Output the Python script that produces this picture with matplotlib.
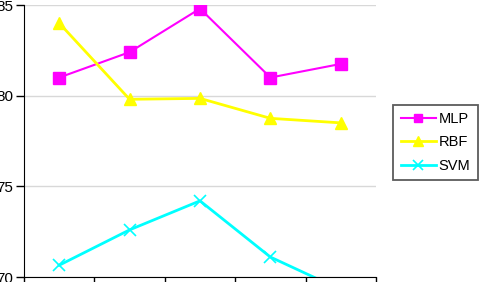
import matplotlib
matplotlib.use("Agg")
from matplotlib import pyplot as plt

# Values
categories = [0, 1, 2, 3, 4]
mlp = [81.0, 82.4, 84.8, 81.0, 81.75]
rbf = [84.0, 79.8, 79.85, 78.75, 78.5]
svm = [70.65, 72.6, 74.2, 71.1, 69.3]
y_ticks = [70, 75, 80, 85]

plt.rcParams['font.family'] = ['Liberation Sans', 'DejaVu Sans']

fig = plt.figure(figsize=(4.85, 2.82), dpi=100)
ax = fig.add_axes([24 / 485, 5 / 282, 352 / 485, 272 / 282])

ax.plot(categories, mlp, color="#ff00ff", marker="s", markersize=8, linewidth=1.5, label="MLP")
ax.plot(categories, rbf, color="#ffff00", marker="^", markersize=9, linewidth=2, label="RBF")
ax.plot(categories, svm, color="#00ffff", marker="x", markersize=9, markeredgewidth=1.2,
        linewidth=2, label="SVM")

ax.set_xlim(-0.5, 4.5)
ax.set_ylim(70, 85)
ax.set_yticks(y_ticks)
ax.set_xticks([x - 0.5 for x in range(6)])
ax.set_xticklabels([])
ax.yaxis.grid(color="#d8d8d8", linewidth=1)
ax.set_axisbelow(True)
ax.spines['top'].set_visible(False)
ax.spines['right'].set_visible(False)
ax.tick_params(axis='both', direction='out', length=6, width=1, labelsize=11)
ax.tick_params(axis='y', pad=2)

leg = fig.legend(loc="center left", bbox_to_anchor=(386 / 485, 0.495), frameon=True,
                 fancybox=False, edgecolor="#333333", fontsize=10.5, handlelength=2.4,
                 borderpad=0.5, labelspacing=0.65, handletextpad=0.2, markerscale=0.8)
leg.get_frame().set_linewidth(1.3)

fig.savefig("out.png", dpi=100)
